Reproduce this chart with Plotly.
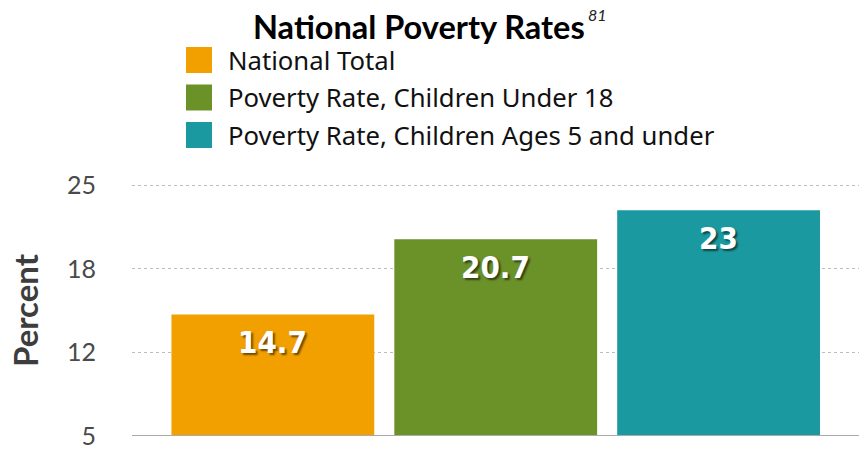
import plotly.graph_objects as go

categories = ["National Total", "Poverty Rate, Children Under 18", "Poverty Rate, Children Ages 5 and under"]
values = [14.7, 20.7, 23]
labels = ["14.7", "20.7", "23"]
colors = ["#F2A000", "#6B9129", "#1A9AA0"]
tick_vals = [5, 11.667, 18.333, 25]
tick_text = ["5", "12", "18", "25"]

W, H = 859, 449
ML, MR, MT, MB = 132, 0, 185, 13
PW, PH = W - ML - MR, H - MT - MB


def px(x):
    return (x - ML) / PW


def py(y):
    return (H - MB - y) / PH


fig = go.Figure()
for i, (c, v, col) in enumerate(zip(categories, values, colors)):
    fig.add_trace(go.Bar(
        x=[i], y=[v - 5], base=[5], name=c, marker=dict(color=col, line=dict(width=0)),
        width=0.91, hoverinfo="skip", showlegend=False,
    ))
    fig.add_annotation(
        x=i, y=v, yshift=-28, yanchor="middle", text="<b>%s</b>" % labels[i], showarrow=False,
        font=dict(family="DejaVu Sans Condensed, Roboto", size=31, color="white",
                  shadow="2px 2px 2px rgba(0,0,0,0.55)"),
        xref="x", yref="y",
    )
    # manual legend
    yc = 60 + i * 37.5
    fig.add_shape(type="rect", xref="paper", yref="paper",
                  x0=px(186), x1=px(212), y0=py(yc - 13), y1=py(yc + 13),
                  fillcolor=col, line=dict(width=0))
    fig.add_annotation(xref="paper", yref="paper", x=px(226), y=py(yc), xanchor="left",
                       yanchor="middle", text=c, showarrow=False,
                       font=dict(family="Noto Sans", size=25.7, color="#111"))

fig.add_annotation(
    xref="paper", yref="paper", x=px(419), y=py(27), xanchor="center", yanchor="middle",
    text="<b>National Poverty Rates</b>", showarrow=False,
    font=dict(family="Lato", size=32.5, color="black"),
)
fig.add_annotation(
    xref="paper", yref="paper", x=px(586), y=py(15), xanchor="left", yanchor="middle",
    text="<i>81</i>", showarrow=False,
    font=dict(family="Lato", size=16, color="#222"),
)

fig.update_layout(
    width=W, height=H,
    margin=dict(l=ML, r=MR, t=MT, b=MB),
    paper_bgcolor="white", plot_bgcolor="white",
    barmode="overlay",
    showlegend=False,
    xaxis=dict(range=[-0.632, 2.63], showticklabels=False, showgrid=False, zeroline=False,
               showline=False, ticks=""),
    yaxis=dict(
        range=[5, 25.02], tickvals=tick_vals, ticktext=tick_text,
        tickfont=dict(family="Lato", size=25, color="#4A4A4A"),
        showgrid=True, gridcolor="#BDBDBD", griddash="dot", gridwidth=1.3,
        zeroline=False, showline=False, ticks="", ticklabelstandoff=35,
        ticklabeloverflow="allow",
        title=dict(text="<b>Percent</b>", font=dict(family="Lato", size=33, color="#3D3D3D"), standoff=18),
    ),
    font=dict(family="Lato"),
)
fig.add_shape(type="line", xref="paper", yref="y", x0=0, x1=1, y0=tick_vals[-1], y1=tick_vals[-1],
              line=dict(color="#BDBDBD", width=1.3, dash="dot"), layer="below")
fig.add_shape(type="line", xref="paper", yref="y", x0=0, x1=1, y0=5, y1=5,
              line=dict(color="#AAAAAA", width=2))

fig.write_html("out.html", config={"displayModeBar": False},
               post_script="document.body.style.margin='0';")
